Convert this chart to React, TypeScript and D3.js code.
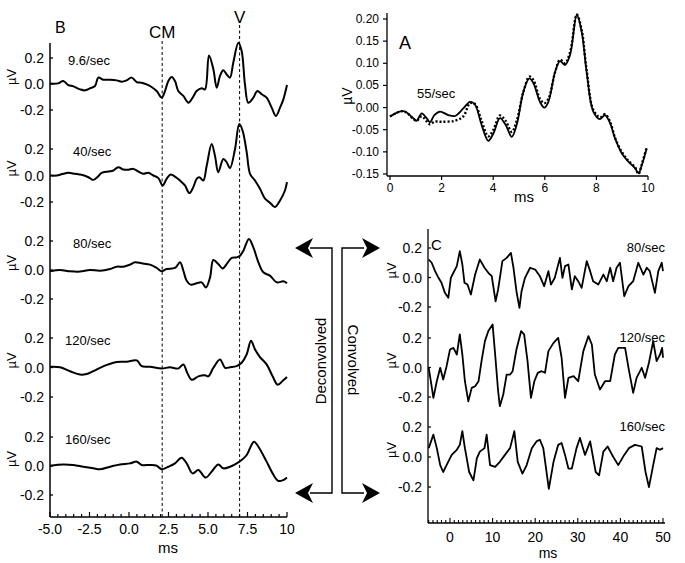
import React from "react";
import * as d3 from "d3";

// ---------- DATA ----------
// Panel B (deconvolved ABR, ms vs µV)
const bRates = ["9.6/sec", "40/sec", "80/sec", "120/sec", "160/sec"];
const bTrace96: [number, number][] = [
  [-5, 0.003], [-4.49, 0.005], [-4.16, 0.023], [-3.84, -0.008], [-3.52, -0.018], [-3.1, -0.041], [-2.78, -0.049],
  [-2.47, -0.033], [-2.15, -0.015], [-1.94, 0.049], [-1.62, 0.033], [-1.2, 0.033], [-0.78, 0.028], [-0.46, 0.018],
  [-0.15, 0.028], [0.17, 0.049], [0.49, 0.015], [0.8, 0.01], [1.12, -0.003], [1.43, -0.023], [1.75, -0.054],
  [2.07, -0.105], [2.28, -0.054], [2.49, 0.023], [2.7, 0.054], [2.91, 0.023], [3.12, -0.054], [3.44, -0.092],
  [3.76, -0.144], [4.03, -0.105], [4.28, -0.054], [4.6, -0.033], [4.81, -0.041], [5.06, 0.22], [5.34, 0.113],
  [5.55, -0.028], [5.76, 0.062], [5.97, 0.105], [6.18, 0.074], [6.39, 0.049], [6.6, 0.164], [6.92, 0.318],
  [7.13, 0.254], [7.34, -0.003], [7.55, -0.144], [7.87, -0.105], [8.12, -0.054], [8.4, -0.079], [8.71, -0.105],
  [9.03, -0.182], [9.3, -0.246], [9.56, -0.182], [9.77, -0.118], [10, -0.008],
];
const bTrace40: [number, number][] = [
  [-5, 0], [-4.58, 0], [-4.16, 0.013], [-3.84, 0.02], [-3.42, 0.013], [-3, 0.005], [-2.57, -0.013], [-2.26, -0.033],
  [-1.94, -0.005], [-1.73, 0.02], [-1.31, 0.03], [-0.99, 0.038], [-0.68, 0.063], [-0.36, 0.045], [-0.04, 0.043],
  [0.27, 0.05], [0.59, 0.03], [0.91, 0.013], [1.22, 0.02], [1.54, 0], [1.86, -0.02], [2.13, -0.075], [2.38, -0.025],
  [2.64, 0.008], [2.91, -0.008], [3.23, -0.038], [3.54, -0.075], [3.82, -0.133], [4.07, -0.088], [4.28, -0.025],
  [4.45, -0.013], [4.7, -0.038], [4.92, 0.075], [5.23, 0.238], [5.44, 0.15], [5.65, 0.025], [5.97, 0.125],
  [6.18, 0.1], [6.39, 0.055], [6.71, 0.2], [6.98, 0.388], [7.19, 0.338], [7.45, 0.175], [7.66, 0.013],
  [7.97, -0.038], [8.29, -0.1], [8.61, -0.175], [8.92, -0.205], [9.24, -0.238], [9.56, -0.188], [9.87, -0.113],
  [10, -0.05],
];
const bTrace80: [number, number][] = [
  [-5, -0.009], [-4.37, 0], [-3.73, -0.009], [-3.1, -0.011], [-2.47, 0], [-1.84, -0.005], [-1.2, 0.007],
  [-0.78, 0.023], [-0.36, 0.023], [0.06, 0.037], [0.38, 0.053], [0.8, 0.046], [1.33, 0.037], [1.75, 0.014],
  [2.07, -0.009], [2.38, 0.007], [2.91, 0.014], [3.23, 0.053], [3.44, -0.005], [3.65, -0.074], [3.9, -0.101],
  [4.28, -0.092], [4.6, -0.085], [4.87, -0.12], [5.13, -0.051], [5.34, 0.069], [5.65, 0.041], [5.93, 0.011],
  [6.18, 0.041], [6.5, 0.083], [6.81, 0.087], [7.03, 0.099], [7.24, 0.133], [7.59, 0.214], [7.87, 0.156],
  [8.19, 0.053], [8.5, -0.016], [8.92, -0.039], [9.35, -0.085], [9.77, -0.078], [10, -0.092],
];
const bTrace120: [number, number][] = [
  [-5, 0.005], [-4.37, 0.002], [-3.73, -0.025], [-3.1, -0.048], [-2.68, -0.044], [-2.26, -0.025], [-1.84, -0.002],
  [-1.31, 0.021], [-0.78, 0.037], [-0.15, 0.039], [0.49, 0.048], [0.8, 0.009], [1.33, 0.005], [2.07, -0.007],
  [2.59, 0.002], [3.12, -0.007], [3.44, 0.021], [3.69, -0.037], [3.97, -0.083], [4.39, -0.06], [4.81, -0.053],
  [5.02, -0.06], [5.34, -0.002], [5.76, 0.055], [6.08, -0.002], [6.39, 0.002], [6.81, 0.009], [7.13, 0.032],
  [7.45, 0.09], [7.72, 0.182], [7.97, 0.124], [8.29, 0.071], [8.71, 0.021], [9.09, -0.06], [9.41, -0.117],
  [9.73, -0.09], [10, -0.064],
];
const bTrace160: [number, number][] = [
  [-5, 0.002], [-4.16, 0.011], [-3.52, 0.007], [-2.89, -0.005], [-2.26, -0.016], [-1.84, -0.023], [-1.2, -0.005],
  [-0.57, 0.011], [0.06, 0.018], [0.49, 0.03], [0.8, 0.007], [1.33, 0.007], [1.75, 0.002], [2.07, -0.023],
  [2.49, -0.005], [2.91, 0.018], [3.33, 0.057], [3.65, 0.018], [4.03, -0.051], [4.39, -0.028], [4.85, -0.08],
  [5.23, -0.039], [5.65, 0.011], [5.97, -0.016], [6.39, -0.005], [6.71, 0.011], [7.13, 0.041], [7.45, 0.076],
  [7.91, 0.168], [8.19, 0.133], [8.71, 0.03], [9.09, -0.051], [9.45, -0.103], [9.77, -0.097], [10, -0.08],
];
const bTicksX = [-5, -2.5, 0, 2.5, 5, 7.5, 10];
const bTickLabelsX = ["-5.0", "-2.5", "0.0", "2.5", "5.0", "7.5", "10"];
const bTicksY = [0.2, 0, -0.2];
const bTickLabelsY = ["0.2", "0.0", "-0.2"];
const markerCM = 2.1;
const markerV = 7.0;

// Panel A (55/sec, two recordings)
const aSolid: [number, number][] = [
  [0, -0.02], [0.52, -0.008], [0.9, -0.024], [1.03, -0.03], [1.23, -0.013], [1.42, -0.024], [1.55, -0.033],
  [1.72, -0.017], [1.94, -0.009], [2.26, -0.017], [2.52, -0.019], [2.84, -0.002], [3.1, 0.013], [3.29, 0.007],
  [3.55, -0.039], [3.81, -0.075], [4.01, -0.058], [4.26, -0.024], [4.48, -0.039], [4.72, -0.066], [4.91, -0.039],
  [5.17, 0.036], [5.4, 0.066], [5.56, 0.055], [5.81, 0.013], [5.98, 0.0], [6.14, 0.013], [6.4, 0.081],
  [6.59, 0.105], [6.78, 0.096], [6.98, 0.119], [7.24, 0.209], [7.43, 0.171], [7.62, 0.081], [7.88, -0.009],
  [8.14, -0.026], [8.33, -0.017], [8.53, -0.035], [8.72, -0.069], [8.98, -0.103], [9.24, -0.122], [9.5, -0.137],
  [9.63, -0.148], [9.76, -0.13], [9.95, -0.092],
];
const aDotted: [number, number][] = [
  [0, -0.02], [0.52, -0.008], [0.9, -0.025], [1.03, -0.03], [1.23, -0.02], [1.55, -0.038], [1.72, -0.032],
  [2.0, -0.032], [2.5, -0.03], [2.84, -0.02], [3.1, 0.01], [3.29, 0.008], [3.55, -0.03], [3.81, -0.065],
  [4.01, -0.05], [4.26, -0.018], [4.48, -0.03], [4.72, -0.055], [4.91, -0.03], [5.17, 0.035], [5.4, 0.07],
  [5.56, 0.062], [5.81, 0.02], [5.98, 0.01], [6.14, 0.02], [6.4, 0.08], [6.59, 0.108], [6.78, 0.1], [6.98, 0.125],
  [7.24, 0.21], [7.43, 0.175], [7.62, 0.085], [7.88, -0.005], [8.14, -0.022], [8.33, -0.015], [8.53, -0.032],
  [8.72, -0.068], [8.98, -0.1], [9.24, -0.12], [9.5, -0.135], [9.63, -0.15], [9.76, -0.128], [9.95, -0.09],
];
const aTicksX = [0, 2, 4, 6, 8, 10];
const aTicksY = [0.2, 0.15, 0.1, 0.05, 0, -0.05, -0.1, -0.15];

// Panel C (convolved responses)
const cRates = ["80/sec", "120/sec", "160/sec"];
const cTrace80: [number, number][] = [
  [-5, 0.122], [-4.3, 0.1], [-3.5, 0.043], [-2.7, -0.002], [-2, -0.036], [-1.2, -0.104], [-0.4, -0.138],
  [0.2, -0.002], [0.8, 0.032], [1.6, 0.077], [2.3, 0.179], [2.9, 0.088], [3.4, -0.036], [4.1, -0.048],
  [4.9, -0.115], [5.9, 0.02], [7.0, 0.122], [8.1, 0.066], [9.0, 0.032], [9.8, 0.009], [10.7, -0.161],
  [11.3, -0.081], [12.3, 0.111], [13.3, 0.133], [14.3, 0.167], [14.9, 0.066], [15.6, -0.093], [16.3, -0.206],
  [16.8, -0.093], [17.6, -0.002], [18.8, 0.066], [20.0, 0.054], [21.1, 0.009], [22.1, -0.059], [23.1, 0.043],
  [23.7, -0.048], [24.6, -0.002], [25.8, 0.133], [26.4, -0.002], [27.0, 0.077], [27.8, 0.088], [28.6, -0.081],
  [29.3, 0.009], [30.1, -0.025], [30.9, -0.07], [32.1, 0.111], [32.9, 0.043], [33.6, -0.025], [34.8, -0.048],
  [36.0, 0.02], [36.8, -0.025], [37.6, 0.066], [38.3, -0.025], [39.1, 0.066], [39.9, 0.1], [40.9, -0.127],
  [41.9, -0.059], [43.0, -0.025], [44.2, 0.1], [45.4, 0.02], [46.2, 0.066], [46.9, 0.043], [48.1, -0.104],
  [48.9, 0.043], [49.7, 0.1], [50, 0.043],
];
const cTrace120: [number, number][] = [
  [-5, -0.002], [-4.5, -0.093], [-3.9, -0.206], [-3.1, -0.093], [-2.3, -0.002], [-1.6, -0.081], [-0.8, 0.009],
  [0, 0.122], [0.8, 0.133], [1.6, 0.088], [2.3, 0.224], [2.9, 0.088], [3.5, -0.093], [4.3, -0.229],
  [5.1, -0.138], [5.9, -0.127], [6.7, -0.093], [7.4, 0.043], [8.2, 0.179], [9.0, 0.247], [10.0, 0.292],
  [10.6, 0.088], [11.3, -0.161], [11.7, -0.262], [12.5, -0.183], [13.3, -0.048], [14.1, -0.048], [14.7, -0.025],
  [15.6, 0.122], [16.7, 0.247], [17.4, 0.224], [18.2, 0.043], [19.0, -0.206], [19.8, -0.093], [20.6, -0.036],
  [21.5, -0.025], [22.3, -0.036], [23.1, 0.111], [24.3, 0.167], [25.4, 0.201], [26.2, 0.066], [27.0, -0.206],
  [27.8, -0.07], [29.0, -0.059], [30.1, -0.093], [31.3, 0.111], [32.5, 0.213], [33.3, 0.156], [34.0, -0.048],
  [35.2, -0.149], [36.4, -0.093], [37.6, -0.093], [38.7, 0.088], [39.5, 0.133], [41.1, 0.133], [41.9, -0.002],
  [43.0, -0.172], [43.8, -0.07], [45.0, -0.002], [45.8, -0.07], [46.7, 0.032], [47.7, 0.179], [48.5, 0.043],
  [49.3, 0.088], [49.8, 0.133], [50, 0.066],
];
const cTrace160: [number, number][] = [
  [-5, 0.059], [-3.9, 0.149], [-3.1, 0.059], [-2.3, -0.054], [-1.6, -0.1], [-0.8, -0.054], [0.4, 0.014],
  [1.6, 0.048], [2.3, 0.081], [2.9, 0.172], [3.5, 0.059], [4.5, -0.1], [5.5, -0.156], [6.3, -0.009],
  [7.0, 0.036], [8.1, 0.059], [8.6, 0.149], [9.4, -0.054], [10.6, -0.066], [11.7, -0.032], [12.9, 0.014],
  [14.1, 0.059], [15.1, 0.172], [15.9, -0.032], [17.0, -0.111], [18.0, -0.054], [19.2, 0.059], [20.3, 0.104],
  [21.1, 0.115], [21.9, 0.059], [23.2, -0.213], [24.3, -0.032], [25.4, 0.081], [26.2, 0.093], [27.0, 0.014],
  [27.8, -0.077], [28.6, -0.077], [29.7, 0.059], [30.5, 0.127], [31.7, 0.014], [32.9, 0.104], [34.2, -0.1],
  [35.0, -0.122], [36.0, 0.036], [37.0, 0.07], [38.3, 0.002], [39.5, -0.054], [40.9, 0.014], [42.0, 0.059],
  [43.4, 0.081], [45.0, 0.07], [45.9, -0.1], [46.7, -0.201], [47.7, -0.054], [48.5, 0.059], [49.3, 0.048],
  [50, 0.059],
];
const cTicksX = [0, 10, 20, 30, 40, 50];
const cTicksY = [0.2, 0, -0.2];
const cTickLabelsY = ["0.2", "0.0", "-0.2"];

// ---------- LAYOUT ----------
const FONT = "'Liberation Sans', Arial, Helvetica, sans-serif";
const bTraces = [bTrace96, bTrace40, bTrace80, bTrace120, bTrace160];
const bBand: [number, number][] = [[58, 110], [149, 202], [241, 299], [338, 397], [437, 495]]; // y of +0.2 / -0.2
const bLabelX = [68, 73, 73, 65, 65];
const cTraces = [cTrace80, cTrace120, cTrace160];
const cBand: [number, number][] = [[248, 307], [338, 397], [427, 487]];

const xB = d3.scaleLinear().domain([-5, 10]).range([50, 287]);
const xA = d3.scaleLinear().domain([0, 10]).range([390, 648]);
const yA = d3.scaleLinear().domain([-0.15, 0.2]).range([174, 19]);
const xC = d3.scaleLinear().domain([0, 50]).range([450, 663]);

function bandScale(b: [number, number]) {
  return d3.scaleLinear().domain([-0.2, 0.2]).range([b[1], b[0]]);
}

function Arrow({ tipX, y, dir }: { tipX: number; y: number; dir: number }) {
  // dir = -1 points left, +1 points right
  const back = tipX - dir * 18;
  const notch = tipX - dir * 13;
  const d = `M${tipX},${y} L${back},${y - 10} L${notch},${y} L${back},${y + 10} Z`;
  return <path d={d} fill="#000" />;
}

export default function App() {
  const minorB = d3.range(-5, 10.01, 0.5);
  const minorC = d3.range(-5, 50.01, 1);
  const lineA = d3
    .line<[number, number]>()
    .x((d) => xA(d[0]))
    .y((d) => yA(d[1]))
    .curve(d3.curveCatmullRom.alpha(0.5));
  return (
    <svg
      width={685}
      height={563}
      style={{ position: "fixed", left: 0, top: 0, background: "#fff" }}
      fontFamily={FONT}
    >
      <rect width={685} height={563} fill="#fff" />

      {/* ===== Panel B ===== */}
      <g>
        <line x1={50} x2={50} y1={43} y2={517} stroke="#000" strokeWidth={1.5} />
        <line x1={50} x2={287} y1={517} y2={517} stroke="#000" strokeWidth={1.5} />
        {minorB.map((t, i) => {
          const major = bTicksX.some((m) => Math.abs(m - t) < 1e-6);
          return (
            <line key={i} x1={xB(t)} x2={xB(t)} y1={517} y2={major ? 512 : 514} stroke="#000" strokeWidth={1.2} />
          );
        })}
        {bTicksX.map((t, i) => (
          <text key={i} x={xB(t)} y={534} fontSize={14} textAnchor="middle" fill="#000">
            {bTickLabelsX[i]}
          </text>
        ))}
        <text x={168} y={553} fontSize={15} textAnchor="middle">ms</text>

        {/* marker lines */}
        <line x1={xB(markerCM)} x2={xB(markerCM)} y1={41} y2={517} stroke="#000" strokeWidth={1} strokeDasharray="3,2.5" />
        <line x1={xB(markerV)} x2={xB(markerV)} y1={25} y2={517} stroke="#000" strokeWidth={1} strokeDasharray="3,2.5" />
        <text x={xB(markerCM)} y={38} fontSize={17} textAnchor="middle">CM</text>
        <text x={xB(markerV)} y={23} fontSize={17} textAnchor="middle">V</text>
        <text x={55} y={33} fontSize={16}>B</text>

        {bTraces.map((tr, k) => {
          const y = bandScale(bBand[k]);
          const line = d3
            .line<[number, number]>()
            .x((d) => xB(d[0]))
            .y((d) => y(d[1]))
            .curve(d3.curveCatmullRom.alpha(0.5));
          return (
            <g key={k}>
              {bTicksY.map((v, j) => (
                <g key={j}>
                  <line x1={50} x2={53} y1={y(v)} y2={y(v)} stroke="#000" strokeWidth={1.3} />
                  <text x={44} y={y(v) + 5} fontSize={14} textAnchor="end">{bTickLabelsY[j]}</text>
                </g>
              ))}
              <text transform={`translate(16,${y(0) - 7}) rotate(-90)`} fontSize={13} textAnchor="middle">
                µV
              </text>
              <text x={bLabelX[k]} y={y(0.2) + 7} fontSize={13}>
                {bRates[k]}
              </text>
              <path d={line(tr) || ""} fill="none" stroke="#000" strokeWidth={2} strokeLinejoin="round" />
            </g>
          );
        })}
      </g>

      {/* ===== Panel A ===== */}
      <g>
        <line x1={387} x2={387} y1={13} y2={176} stroke="#000" strokeWidth={1.3} />
        <line x1={387} x2={648} y1={176} y2={176} stroke="#000" strokeWidth={1.3} />
        {aTicksY.map((v, i) => (
          <g key={i}>
            <line x1={383} x2={387} y1={yA(v)} y2={yA(v)} stroke="#000" strokeWidth={1.2} />
            <text x={379} y={yA(v) + 4} fontSize={12} textAnchor="end">{v.toFixed(2)}</text>
          </g>
        ))}
        {aTicksX.map((t, i) => (
          <g key={i}>
            <line x1={xA(t)} x2={xA(t)} y1={176} y2={180} stroke="#000" strokeWidth={1.2} />
            <text x={xA(t)} y={192} fontSize={12} textAnchor="middle">{t}</text>
          </g>
        ))}
        <text x={524} y={202} fontSize={15} textAnchor="middle">ms</text>
        <text transform="translate(352,96) rotate(-90)" fontSize={14} textAnchor="middle">µV</text>
        <text x={399} y={49} fontSize={18}>A</text>
        <text x={417} y={98} fontSize={13}>55/sec</text>
        <path d={lineA(aDotted) || ""} fill="none" stroke="#000" strokeWidth={2.4} strokeDasharray="2,2" />
        <path d={lineA(aSolid) || ""} fill="none" stroke="#000" strokeWidth={1.8} />
      </g>

      {/* ===== Brackets ===== */}
      <g stroke="#000" strokeWidth={1.4} fill="none">
        <polyline points={`310,248 332,248 332,493 310,493`} />
        <polyline points={`364,248 342,248 342,493 364,493`} />
      </g>
      <Arrow tipX={295} y={248} dir={-1} />
      <Arrow tipX={295} y={493} dir={-1} />
      <Arrow tipX={380} y={248} dir={1} />
      <Arrow tipX={380} y={493} dir={1} />
      <text transform="translate(320,361) rotate(-90)" fontSize={15} textAnchor="middle" dominantBaseline="central">
        Deconvolved
      </text>
      <text transform="translate(353,360) rotate(90)" fontSize={15} textAnchor="middle" dominantBaseline="central">
        Convolved
      </text>

      {/* ===== Panel C ===== */}
      <g>
        <line x1={428} x2={428} y1={229} y2={523} stroke="#000" strokeWidth={1.3} />
        <line x1={428} x2={665} y1={523} y2={523} stroke="#000" strokeWidth={1.3} />
        {minorC.map((t, i) => {
          const major = cTicksX.includes(Math.round(t)) && Math.abs(t - Math.round(t)) < 1e-6;
          return (
            <line key={i} x1={xC(t)} x2={xC(t)} y1={523} y2={major ? 518 : 520} stroke="#000" strokeWidth={1.1} />
          );
        })}
        {cTicksX.map((t, i) => (
          <text key={i} x={xC(t)} y={542} fontSize={14} textAnchor="middle">{t}</text>
        ))}
        <text x={548} y={558} fontSize={14} textAnchor="middle">ms</text>
        <text x={431} y={250} fontSize={15}>C</text>
        {cTraces.map((tr, k) => {
          const y = bandScale(cBand[k]);
          const line = d3
            .line<[number, number]>()
            .x((d) => xC(d[0]))
            .y((d) => y(d[1]));
          return (
            <g key={k}>
              {cTicksY.map((v, j) => (
                <g key={j}>
                  <line x1={428} x2={431} y1={y(v)} y2={y(v)} stroke="#000" strokeWidth={1.2} />
                  <text x={422} y={y(v) + 5} fontSize={14} textAnchor="end">{cTickLabelsY[j]}</text>
                </g>
              ))}
              <text transform={`translate(396,${y(0) - 7}) rotate(-90)`} fontSize={13} textAnchor="middle">
                µV
              </text>
              <text x={665} y={y(0.2) + 4} fontSize={13} textAnchor="end">{cRates[k]}</text>
              <path d={line(tr) || ""} fill="none" stroke="#000" strokeWidth={1.8} strokeLinejoin="round" />
            </g>
          );
        })}
      </g>
    </svg>
  );
}
